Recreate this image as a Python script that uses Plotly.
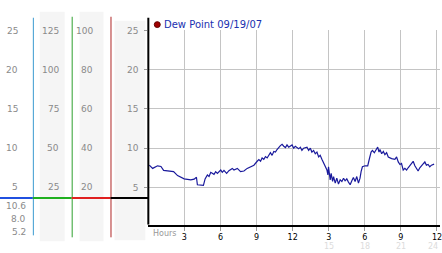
import plotly.graph_objects as go

W, H = 442, 253

# ---- data ----
hours = [0.08,0.36,0.77,1.05,1.27,1.88,2.10,2.43,2.98,3.53,3.81,4.0,4.08,4.58,4.72,4.91,5.05,5.19,
         5.46,5.6,5.74,6.02,6.15,6.29,6.51,6.70,6.98,7.12,7.40,7.67,7.95,8.22,8.78,9.05,9.19,9.33,
         9.46,9.6,9.74,9.88,10.0,10.15,10.29,10.43,10.57,10.7,10.98,11.12,11.26,11.4,11.53,
         11.67,11.95,12.09,12.22,12.50,12.64,12.77,12.91,13.19,13.33,13.47,13.60,13.74,13.88,14.02,
         14.16,14.29,14.43,14.57,14.71,14.85,14.93,14.98,15.12,15.20,15.32,15.40,15.54,15.67,15.81,
         15.95,16.09,16.23,16.36,16.50,16.64,16.78,16.92,17.05,17.19,17.33,17.47,17.60,17.69,17.80,
         18.02,18.24,18.35,18.52,18.63,18.79,18.90,19.07,19.18,19.26,19.40,19.54,19.67,19.81,19.95,
         20.23,20.50,20.64,20.78,20.92,21.05,21.19,21.33,21.47,21.60,21.88,22.02,22.16,22.30,22.43,
         22.57,22.71,22.85,22.99,23.12,23.26,23.40,23.54,23.76]
dew_point = [7.83,7.42,7.75,7.67,7.17,7.08,7.0,6.5,6.08,5.96,6.04,6.29,5.33,5.25,6.08,6.58,6.38,6.92,
             6.66,7.0,6.79,7.21,6.92,7.17,6.79,7.13,7.42,7.21,7.42,7.0,7.08,7.42,7.83,8.33,8.54,8.33,
             8.75,8.58,8.92,8.75,9.08,9.42,9.08,9.58,9.5,9.83,10.33,10.5,10.25,10.08,10.42,
             10.13,10.42,10.0,10.25,9.92,10.13,9.71,10.0,10.13,9.71,10.0,9.5,9.71,9.29,9.5,
             8.88,9.08,8.58,8.04,7.5,7.21,6.58,7.63,5.96,6.79,5.75,6.38,5.54,6.17,5.42,
             5.96,5.75,6.17,5.83,6.08,5.67,5.33,5.83,6.25,5.75,6.38,5.54,6.17,7.0,7.63,
             7.75,7.75,8.46,9.5,9.71,9.42,9.71,10.13,9.5,9.83,9.29,9.58,9.17,9.42,8.88,
             8.67,8.58,8.88,8.25,7.92,8.04,7.21,7.42,7.21,7.5,8.04,8.33,7.75,7.42,7.08,
             7.5,7.75,7.92,8.25,7.83,7.92,7.63,7.83,7.96]

series_name = "Dew Point 09/19/07"
y_ticks = [5, 10, 15, 20, 25]
col1_labels = ["5", "10", "15", "20", "25"]
col2_labels = ["25", "50", "75", "100", "125"]
col3_labels = ["20", "40", "60", "80", "100"]
x_ticks = [3, 6, 9, 12, 15, 18, 21, 24]
x_ticktext = ["3", "6", "9", "12", "3", "6", "9", "12"]
x_faint_ticks = [15, 18, 21, 24]
x_faint_text = ["15", "18", "21", "24"]
readings = ["10.6", "8.0", "5.2"]

FONT = "DejaVu Sans"
GRAY = "#8a8a8a"

def px(x):
    return x / W

def py(y):
    return 1 - y / H

fig = go.Figure()
fig.add_trace(go.Scatter(x=hours, y=dew_point, mode="lines",
                         line=dict(color="#1a1a9c", width=1.2), showlegend=False,
                         hoverinfo="skip"))

shapes = []
# light gray column backgrounds
for (x0, x1, y0, y1) in [(40, 65, 7, 241), (80, 104, 7, 241), (115, 146, 16, 240)]:
    shapes.append(dict(type="rect", xref="paper", yref="paper", x0=px(x0), x1=px(x1),
                       y0=py(y1), y1=py(y0), fillcolor="#f5f5f5", line=dict(width=0),
                       layer="below"))
# vertical column lines
for (x, y0, y1, c) in [(33.5, 13, 235, "#3a9ad0"), (72.5, 12, 237, "#2fa02f"),
                       (111.5, 12, 237, "#b02525"), (149, 13, 224, "#000000")]:
    shapes.append(dict(type="line", xref="paper", yref="paper", x0=px(x), x1=px(x),
                       y0=py(y1), y1=py(y0), line=dict(color=c, width=2 if c == "#000000" else 1)))
# horizontal colored marker segments
for (x0, x1, c) in [(0, 33, "#2050e0"), (33, 72, "#20b020"), (72, 111, "#e02020"), (111, 149, "#000000")]:
    shapes.append(dict(type="line", xref="paper", yref="paper", x0=px(x0), x1=px(x1),
                       y0=py(197), y1=py(197), line=dict(color=c, width=2)))
# legend dot
shapes.append(dict(type="circle", xref="paper", yref="paper", x0=px(155), x1=px(161),
                   y0=py(23), y1=py(17), fillcolor="#a00000", line=dict(color="#600000", width=1)))

annotations = []
for v, a, b, c in zip(y_ticks, col1_labels, col2_labels, col3_labels):
    for txt, xr in [(a, 20), (b, 61), (c, 95)]:
        annotations.append(dict(text=txt, x=px(xr), y=v, xref="paper", yref="y",
                                xanchor="right", yanchor="middle", showarrow=False,
                                font=dict(family=FONT, size=9, color=GRAY)))
for i, t in enumerate(readings):
    annotations.append(dict(text=t, x=px(28), y=py(205 + 13.3 * i), xref="paper", yref="paper",
                            xanchor="right", yanchor="middle", showarrow=False,
                            font=dict(family=FONT, size=9, color=GRAY)))
annotations.append(dict(text="Hours", x=px(152), y=py(233), xref="paper", yref="paper",
                        xanchor="left", yanchor="middle", showarrow=False,
                        font=dict(family=FONT, size=8, color="#999999")))
for v, t in zip(x_faint_ticks, x_faint_text):
    last = (v == x_faint_ticks[-1])
    annotations.append(dict(text=t, x=v, y=py(246), xref="x", yref="paper",
                            xanchor="right" if last else "center", xshift=3 if last else 0,
                            yanchor="middle", showarrow=False,
                            font=dict(family=FONT, size=8, color="#dcdcdc")))
annotations.append(dict(text=series_name, x=px(163), y=py(20), xref="paper", yref="paper",
                        xanchor="left", yanchor="middle", showarrow=False,
                        font=dict(family=FONT, size=10, color="#2030b0")))

fig.update_layout(
    width=W, height=H, margin=dict(l=0, r=0, t=0, b=0),
    paper_bgcolor="white", plot_bgcolor="white", showlegend=False,
    xaxis=dict(domain=[px(149), 1], range=[0, 24.25], tickvals=x_ticks, ticktext=x_ticktext,
               showgrid=True, gridcolor="#c4c4c4", gridwidth=1, zeroline=False,
               showline=True, linecolor="black", linewidth=2,
               ticks="outside", ticklen=4, tickcolor="#999999", ticklabeloverflow="allow",
               tickfont=dict(family=FONT, size=8, color="black")),
    yaxis=dict(domain=[py(224), py(26)], range=[0.25, 25.02], tickvals=y_ticks,
               ticktext=col1_labels, ticklabelstandoff=4,
               showgrid=True, gridcolor="#c4c4c4", gridwidth=1, zeroline=False,
               showline=False, ticks="outside", ticklen=3, tickcolor="#999999",
               tickfont=dict(family=FONT, size=9, color=GRAY)),
    shapes=shapes, annotations=annotations,
)

fig.write_html("out.html")
